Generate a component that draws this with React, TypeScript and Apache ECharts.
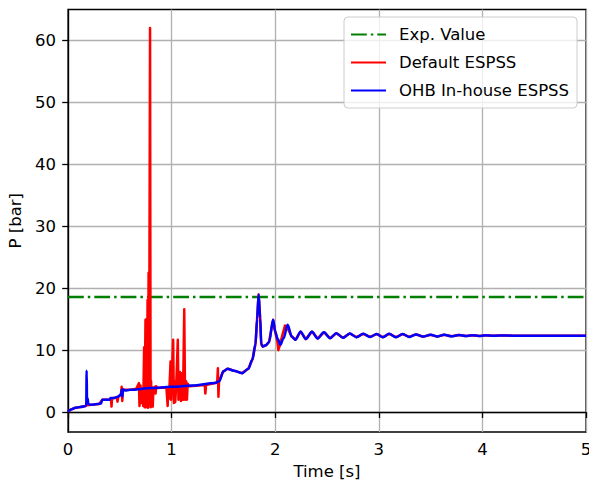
import React, { useEffect, useRef } from "react";
import * as echarts from "echarts";

// ---- Axis ticks ----
const xTicks = [0, 1, 2, 3, 4, 5];
const yTicks = [0, 10, 20, 30, 40, 50, 60];
const xRange = [0, 5];
const yRange = [-3.2, 65];

// ---- Series names ----
const seriesNames = ["Exp. Value", "Default ESPSS", "OHB In-house ESPSS"];

// ---- Experimental value (bar) ----
const expValue = 18.6;

// ---- OHB In-house ESPSS: [time s, pressure bar] ----
const ohbData: number[][] = [
  [0, 0.1], [0.03, 0.45], [0.07, 0.7], [0.12, 0.85], [0.17, 1.0], [0.176, 1.2],
  [0.18, 6.7], [0.184, 1.6], [0.19, 2.2], [0.196, 1.3], [0.22, 1.2], [0.28, 1.3],
  [0.32, 1.4], [0.33, 2.0], [0.4, 2.0], [0.41, 2.3], [0.45, 2.3], [0.48, 2.5],
  [0.51, 2.8], [0.52, 3.6], [0.525, 2.5], [0.53, 3.7], [0.55, 3.5], [0.6, 3.6],
  [0.8, 3.9], [1.0, 4.1], [1.2, 4.3], [1.42, 4.7], [1.46, 5.0], [1.5, 6.6],
  [1.54, 7.0], [1.6, 6.7], [1.68, 6.3], [1.74, 7.0], [1.78, 8.5], [1.81, 11.0],
  [1.825, 15.0], [1.84, 19.0], [1.855, 15.2], [1.865, 11.0], [1.88, 10.6],
  [1.91, 10.8], [1.94, 11.3], [1.98, 14.9], [2.0, 13.0], [2.025, 11.8],
  [2.05, 10.9], [2.08, 11.9], [2.12, 14.1], [2.16, 12.2], [2.195, 11.7],
  [2.245, 13.0], [2.295, 11.8], [2.355, 13.0], [2.41, 11.9], [2.47, 12.9],
  [2.53, 11.95], [2.59, 12.75], [2.655, 12.0], [2.72, 12.7], [2.785, 12.1],
  [2.85, 12.65], [2.915, 12.15], [2.98, 12.6], [3.04, 12.1], [3.1, 12.65],
  [3.165, 12.1], [3.23, 12.6], [3.295, 12.15], [3.36, 12.55], [3.43, 12.2],
  [3.5, 12.5], [3.565, 12.2], [3.63, 12.5], [3.7, 12.25], [3.775, 12.45],
  [3.84, 12.28], [3.9, 12.42], [3.97, 12.3], [4.03, 12.4], [4.1, 12.32],
  [4.16, 12.38], [4.3, 12.35], [5.0, 12.35],
];

// ---- Default ESPSS, first part (deviations from OHB) ----
const defaultEarly: number[][] = [
  [0, 0.1], [0.03, 0.45], [0.07, 0.7], [0.12, 0.85], [0.17, 1.0], [0.18, 1.1],
  [0.3, 1.3], [0.33, 2.0], [0.4, 2.0], [0.415, 2.1], [0.42, 0.9], [0.425, 2.2],
  [0.47, 2.4], [0.478, 1.7], [0.485, 2.5], [0.51, 2.8], [0.518, 4.1],
  [0.524, 1.8], [0.53, 3.6], [0.6, 3.6], [0.66, 3.8], [0.685, 4.7], [0.69, 1.0],
  [0.695, 3.9], [0.7, 4.3], [0.705, 1.5], [0.71, 3.8], [0.72, 3.9], [0.726, 1.0],
  [0.735, 10.5], [0.74, 0.8], [0.748, 14.9], [0.752, 0.8], [0.758, 15.0],
  [0.762, 1.0], [0.768, 18.1], [0.772, 0.7], [0.778, 22.5], [0.783, 1.2],
  [0.792, 62.0], [0.797, 0.8], [0.802, 5.0], [0.807, 1.0], [0.812, 4.0],
  [0.818, 0.9], [0.825, 3.9], [0.84, 4.1], [0.845, 3.0], [0.852, 4.2],
  [0.86, 3.9], [0.95, 4.0], [0.962, 1.0], [0.968, 4.0], [0.975, 2.2],
  [0.99, 8.2], [0.995, 2.0], [1.015, 11.7], [1.022, 1.5], [1.03, 5.0],
  [1.035, 1.6], [1.045, 4.5], [1.06, 11.7], [1.066, 2.0], [1.08, 6.5],
  [1.09, 1.8], [1.1, 6.3], [1.11, 2.0], [1.122, 16.6], [1.13, 2.0], [1.14, 5.0],
  [1.148, 2.0], [1.155, 4.6], [1.17, 4.2], [1.32, 4.4], [1.326, 3.0],
  [1.332, 4.4], [1.44, 4.8], [1.447, 7.1], [1.452, 2.5], [1.458, 5.0],
  [1.5, 6.6], [1.54, 7.0], [1.6, 6.7], [1.68, 6.3], [1.74, 7.0], [1.78, 8.5],
  [1.81, 11.0], [1.825, 15.0], [1.84, 19.0], [1.855, 15.2], [1.865, 11.0],
  [1.88, 10.6], [1.91, 10.8], [1.94, 11.3], [1.98, 14.9], [2.0, 13.0],
  [2.02, 11.5], [2.03, 10.0], [2.045, 10.8], [2.07, 12.5], [2.095, 14.0],
  [2.12, 13.5],
];
const defaultData: number[][] = defaultEarly.concat(
  ohbData.filter((p) => p[0] >= 2.16)
);

const FONT = "DejaVu Sans";

export default function App() {
  const ref = useRef<HTMLDivElement>(null);

  useEffect(() => {
    document.body.style.margin = "0";
    const chart = echarts.init(ref.current!, null, { renderer: "svg" });
    const axisLine = { show: true, lineStyle: { color: "#000", width: 1.3 } };
    const axisTick = { show: true, inside: false, length: 5.8, lineStyle: { color: "#000", width: 1.3 } };
    const splitLine = { show: true, lineStyle: { color: "#b0b0b0", width: 1.3 } };
    chart.setOption({
      animation: false,
      backgroundColor: "#ffffff",
      textStyle: { fontFamily: FONT },
      grid: {
        left: 68, right: 3, top: 9.5, bottom: 53,
        outerBoundsMode: "none",
        show: true, borderColor: "#000", borderWidth: 1.3, backgroundColor: "transparent",
      },
      legend: {
        orient: "vertical",
        left: 344, top: 17,
        itemWidth: 35, itemHeight: 14, itemGap: 11,
        padding: [9, 8, 9, 6],
        backgroundColor: "rgba(255,255,255,0.8)",
        borderColor: "#cccccc", borderWidth: 1, borderRadius: 4,
        itemStyle: { opacity: 0, borderWidth: 0 },
        textStyle: { fontFamily: FONT, fontSize: 16.5, color: "#000", padding: [0, 0, 0, 8] },
        data: seriesNames,
      },
      xAxis: {
        type: "value",
        min: xRange[0], max: xRange[1],
        name: "Time [s]", nameLocation: "middle", nameGap: 29,
        nameTextStyle: { fontFamily: FONT, fontSize: 16.5, color: "#000" },
        axisLine, axisTick: { ...axisTick, customValues: xTicks },
        axisLabel: { customValues: xTicks, fontFamily: FONT, fontSize: 16.5, color: "#000", margin: 9 },
        splitLine,
      },
      yAxis: {
        type: "value",
        min: yRange[0], max: yRange[1],
        name: "P [bar]", nameLocation: "middle", nameGap: 43,
        nameTextStyle: { fontFamily: FONT, fontSize: 16.5, color: "#000" },
        axisLine, axisTick: { ...axisTick, customValues: yTicks },
        axisLabel: { customValues: yTicks, fontFamily: FONT, fontSize: 16.5, color: "#000", margin: 12 },
        splitLine,
      },
      series: [
        {
          name: seriesNames[0], type: "line", symbol: "none", color: "#008000",
          data: [[xRange[0], expValue], [xRange[1], expValue]],
          lineStyle: { color: "#008000", width: 2.5, type: [15.8, 4, 2.5, 4] },
        },
        {
          name: seriesNames[1], type: "line", symbol: "none", color: "#ff0000",
          data: defaultData,
          lineStyle: { color: "#ff0000", width: 2.5, join: "round" },
        },
        {
          name: seriesNames[2], type: "line", symbol: "none", color: "#0000ff",
          data: ohbData, smooth: 0.35, smoothMonotone: "x",
          lineStyle: { color: "#0000ff", width: 2.5, join: "round" },
        },
      ],
    });
    return () => chart.dispose();
  }, []);

  return (
    <div
      ref={ref}
      style={{ position: "fixed", left: 0, top: 0, width: 589, height: 485, background: "#fff" }}
    />
  );
}
